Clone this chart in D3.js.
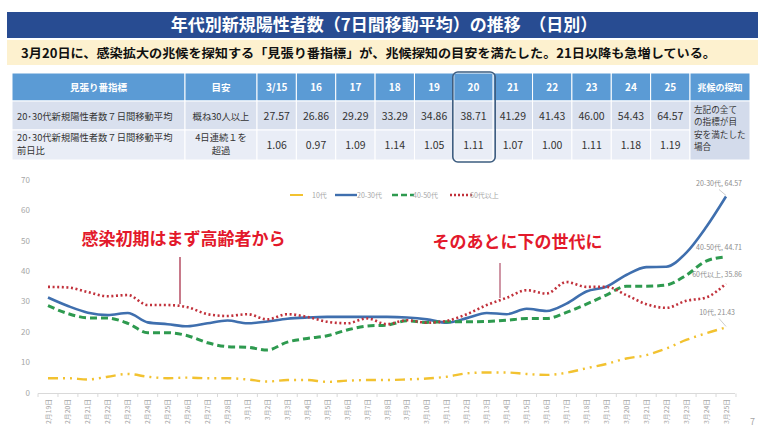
<!DOCTYPE html>
<html><head><meta charset="utf-8">
<script src="https://cdn.jsdelivr.net/npm/d3@7/dist/d3.min.js"></script>
<style>
html,body{margin:0;padding:0;background:#fff;}
svg{display:block;font-family:"Noto Sans CJK JP","Noto Sans",sans-serif;}
</style></head>
<body>
<svg id="c" width="768" height="443"></svg>
<script>
// ---------- data ----------
const titleText = "年代別新規陽性者数（7日間移動平均）の推移　（日別）";
const subText = "3月20日に、感染拡大の兆候を探知する「見張り番指標」が、兆候探知の目安を満たした。21日以降も急増している。";

const dates = ["2月19日","2月20日","2月21日","2月22日","2月23日","2月24日","2月25日","2月26日","2月27日","2月28日",
  "3月1日","3月2日","3月3日","3月4日","3月5日","3月6日","3月7日","3月8日","3月9日","3月10日",
  "3月11日","3月12日","3月13日","3月14日","3月15日","3月16日","3月17日","3月18日","3月19日","3月20日",
  "3月21日","3月22日","3月23日","3月24日","3月25日"];
const seriesNames = ["10代","20-30代","40-50代","60代以上"];
const teens = [4.7,4.7,4.3,5.2,6.1,5.2,4.7,4.9,4.7,4.7,
  4.3,3.6,4.1,4.1,3.5,3.9,4.1,4.1,4.3,4.6,
  5.2,6.3,6.6,6.6,6.1,5.8,6.5,8.0,9.4,11.2,
  12.3,14.5,17.3,19.5,21.43];
const twenties = [31.3,28.5,26.3,25.5,26.2,23.1,22.5,21.8,22.8,23.7,
  22.8,23.4,24.3,24.7,24.9,24.9,24.9,24.9,24.7,24.1,
  23.0,24.5,26.2,25.8,27.57,26.86,29.29,33.29,34.86,38.71,
  41.29,41.43,46.00,54.43,64.57];
const forties = [28.6,26.0,24.6,24.5,22.8,19.7,19.7,18.7,16.4,15.1,
  14.9,14.0,16.6,17.8,18.7,20.6,21.9,22.2,23.6,23.1,
  23.3,23.3,23.4,23.8,24.4,24.4,26.4,29.1,32.1,35.0,
  35.0,35.4,38.6,43.3,44.71];
const sixties = [34.8,34.6,33.1,31.7,32.1,28.8,28.8,28.1,25.8,25.2,
  25.8,24.1,25.8,24.9,23.3,22.8,24.4,22.5,23.8,23.0,
  23.6,25.8,28.8,31.2,33.7,32.6,36.4,34.8,34.8,32.1,
  29.1,27.9,30.2,31.3,35.86];
const yTicks = [0,10,20,30,40,50,60,70];

const tableHeader = ["見張り番指標","目安"];
const tableDates = ["3/15","16","17","18","19","20","21","22","23","24","25"];
const tableRow1 = ["27.57","26.86","29.29","33.29","34.86","38.71","41.29","41.43","46.00","54.43","64.57"];
const tableRow2 = ["1.06","0.97","1.09","1.14","1.05","1.11","1.07","1.00","1.11","1.18","1.19"];
const rowLabel1 = ["20･30代新規陽性者数７日間移動平均"];
const rowLabel2 = ["20･30代新規陽性者数７日間移動平均","前日比"];
const guide1 = ["概ね30人以上"];
const guide2 = ["4日連続１を","超過"];
const detectHeader = "兆候の探知";
const detectText = ["左記の全て","の指標が目","安を満たした","場合"];
const highlightDate = "20";

const annot1 = "感染初期はまず高齢者から";
const annot2 = "そのあとに下の世代に";

// ---------- drawing ----------
const svg = d3.select("#c");
svg.append("rect").attr("width",768).attr("height",443).attr("fill","#fff");

// title
svg.append("rect").attr("x",7).attr("y",12).attr("width",751).attr("height",26).attr("fill","#284c92");
svg.append("text").attr("x",384).attr("y",31).attr("text-anchor","middle")
  .attr("fill","#fff").attr("font-size",17).attr("font-weight","bold").text(titleText);
svg.append("rect").attr("x",7).attr("y",40).attr("width",751).attr("height",25).attr("fill","#fdf1cf");
svg.append("text").attr("x",21).attr("y",57.5).attr("fill","#111")
  .attr("font-size",12.5).attr("font-weight","bold").attr("textLength",695).attr("lengthAdjust","spacingAndGlyphs").text(subText);

// table
const tY0 = 73, tY1 = 101, tY2 = 130, tY3 = 160;
const col1 = [12,185], col2 = [185,257], colLast = [690,750];
const xb = d3.scaleBand().domain(tableDates).range([257,690]);
const tg = svg.append("g");
const hdrFill = "#5b9bd5", r1Fill = "#d9e0ee", r2Fill = "#e9edf6";
function cell(x0,x1,y0,y1,fill){
  tg.append("rect").attr("x",x0).attr("y",y0).attr("width",x1-x0).attr("height",y1-y0)
    .attr("fill",fill).attr("stroke","#fff").attr("stroke-width",1);
}
// header
cell(col1[0],col1[1],tY0,tY1,hdrFill);
cell(col2[0],col2[1],tY0,tY1,hdrFill);
tableDates.forEach(d=>cell(xb(d),xb(d)+xb.bandwidth(),tY0,tY1,hdrFill));
cell(colLast[0],colLast[1],tY0,tY1,hdrFill);
// rows
[[tY1,tY2,r1Fill],[tY2,tY3,r2Fill]].forEach(([a,b,f])=>{
  cell(col1[0],col1[1],a,b,f);
  cell(col2[0],col2[1],a,b,f);
  tableDates.forEach(d=>cell(xb(d),xb(d)+xb.bandwidth(),a,b,f));
});
cell(colLast[0],colLast[1],tY1,tY3,"#d3dbeb");

const hs = {fill:"#fff","font-size":9.5,"font-weight":"bold","text-anchor":"middle"};
function txt(x,y,s,st){
  const t = tg.append("text").attr("x",x).attr("y",y).text(s);
  Object.entries(st).forEach(([k,v])=>t.attr(k,v));
  return t;
}
txt((col1[0]+col1[1])/2,90.5,tableHeader[0],hs);
txt((col2[0]+col2[1])/2,90.5,tableHeader[1],hs);
tableDates.forEach(d=>txt(xb(d)+xb.bandwidth()/2,91,d,Object.assign({},hs,{"font-size":10})));
txt((colLast[0]+colLast[1])/2,90.5,detectHeader,Object.assign({},hs,{"font-size":9}));

const bs = {fill:"#333","font-size":9.3};
txt(17,119.5,rowLabel1[0],bs);
txt(17,141,rowLabel2[0],bs);
txt(17,154.3,rowLabel2[1],bs);
txt((col2[0]+col2[1])/2,119.5,guide1[0],Object.assign({},bs,{"text-anchor":"middle"}));
txt((col2[0]+col2[1])/2,141,guide2[0],Object.assign({},bs,{"text-anchor":"middle"}));
txt((col2[0]+col2[1])/2,154.3,guide2[1],Object.assign({},bs,{"text-anchor":"middle"}));
tableDates.forEach((d,i)=>{
  txt(xb(d)+xb.bandwidth()/2,120,tableRow1[i],Object.assign({},bs,{"text-anchor":"middle","font-size":10.5}));
  txt(xb(d)+xb.bandwidth()/2,149,tableRow2[i],Object.assign({},bs,{"text-anchor":"middle","font-size":10.5}));
});
detectText.forEach((s,i)=>txt(694,112.5+i*12.6,s,Object.assign({},bs,{"font-size":8.6})));
// highlight
tg.append("rect").attr("x",xb(highlightDate)-1).attr("y",72).attr("width",xb.bandwidth()+3).attr("height",90)
  .attr("rx",5).attr("fill","none").attr("stroke","#3d5d80").attr("stroke-width",1.6);

// chart
const x = d3.scalePoint().domain(dates).range([48,726]);
const y = d3.scaleLinear().domain([0,70]).range([392.5,180]);
const cg = svg.append("g");

// axis line
cg.append("line").attr("x1",38).attr("x2",735).attr("y1",393.5).attr("y2",393.5).attr("stroke","#d9d9d9").attr("stroke-width",1);
const step = x.step();
d3.range(dates.length+1).forEach(i=>{
  const xx = x(dates[0]) - step/2 + i*step;
  cg.append("line").attr("x1",xx).attr("x2",xx).attr("y1",393.5).attr("y2",397).attr("stroke","#d9d9d9");
});
// y labels
yTicks.forEach(v=>{
  cg.append("text").attr("x",30).attr("y",y(v)+3).attr("text-anchor","end")
    .attr("fill","#a6a6a6").attr("font-size",8).text(v);
});
// x labels
dates.forEach(d=>{
  cg.append("text").attr("transform",`translate(${x(d)+2.5},399) rotate(-90)`)
    .attr("text-anchor","end").attr("fill","#a6a6a6").attr("font-size",6.8).text(d);
});

const line = d3.line().x((d,i)=>x(dates[i])).y(d=>y(d)).curve(d3.curveMonotoneX);
const styles = [
  {data:teens, color:"#f2c230", w:2.4, dash:"10,5,2,5,2,5"},
  {data:twenties, color:"#3f6fae", w:2.6, dash:null},
  {data:forties, color:"#2e9a4f", w:3, dash:"7,4"},
  {data:sixties, color:"#c1313b", w:2.6, dash:"2,2.6"}
];
styles.forEach(s=>{
  const p = cg.append("path").datum(s.data).attr("d",line).attr("fill","none")
    .attr("stroke",s.color).attr("stroke-width",s.w);
  if(s.dash) p.attr("stroke-dasharray",s.dash);
});

// legend
const legX = [290,335,392,450], legTX = [312,357,413,470];
styles.forEach((s,i)=>{
  const l = cg.append("line").attr("x1",legX[i]).attr("x2",legX[i]+ (i===0?13:22)).attr("y1",195).attr("y2",195)
    .attr("stroke",s.color).attr("stroke-width",i===0?2:2.4);
  if(i===2) l.attr("stroke-dasharray","6,3");
  if(i===3) l.attr("stroke-dasharray","2,2");
  cg.append("text").attr("x",legTX[i]).attr("y",197.5).attr("fill","#a6a6a6").attr("font-size",7).text(seriesNames[i]);
});

// end labels
const last = dates.length-1;
const endLabels = [
  {s:1, dy:-10, txt:`${seriesNames[1]}, ${twenties[last].toFixed(2)}`, leader:true},
  {s:2, dy:-7, txt:`${seriesNames[2]}, ${forties[last].toFixed(2)}`, leader:false},
  {s:3, dy:-7, txt:`${seriesNames[3]}, ${sixties[last].toFixed(2)}`, leader:false},
  {s:0, dy:-12, txt:`${seriesNames[0]}, ${teens[last].toFixed(2)}`, leader:true}
];
const endRight = [742,742,742,735];
endLabels.forEach((e,i)=>{
  const v = styles[e.s].data[last];
  const yy = y(v);
  cg.append("text").attr("x",endRight[i]).attr("y",yy+e.dy).attr("text-anchor","end")
    .attr("fill","#8c8c8c").attr("font-size",7).text(e.txt);
  if(e.leader){
    cg.append("line").attr("x1",x(dates[last])-7).attr("y1",yy+e.dy+3).attr("x2",x(dates[last])).attr("y2",yy-1)
      .attr("stroke","#bfbfbf").attr("stroke-width",0.8);
  }
});

// annotations
cg.append("text").attr("x",183.5).attr("y",244.5).attr("text-anchor","middle").attr("fill","#e3192b")
  .attr("font-size",17).attr("font-weight","bold").text(annot1);
cg.append("line").attr("x1",180).attr("x2",180).attr("y1",257).attr("y2",304).attr("stroke","#a3203c").attr("stroke-width",1.2);
cg.append("text").attr("x",517.5).attr("y",248).attr("text-anchor","middle").attr("fill","#e3192b")
  .attr("font-size",17).attr("font-weight","bold").text(annot2);
cg.append("line").attr("x1",500).attr("x2",500).attr("y1",263).attr("y2",298).attr("stroke","#b0506a").attr("stroke-width",1.2);

// page number
svg.append("text").attr("x",750).attr("y",425).attr("fill","#a6a6a6").attr("font-size",9).text("7");
</script>
</body></html>
